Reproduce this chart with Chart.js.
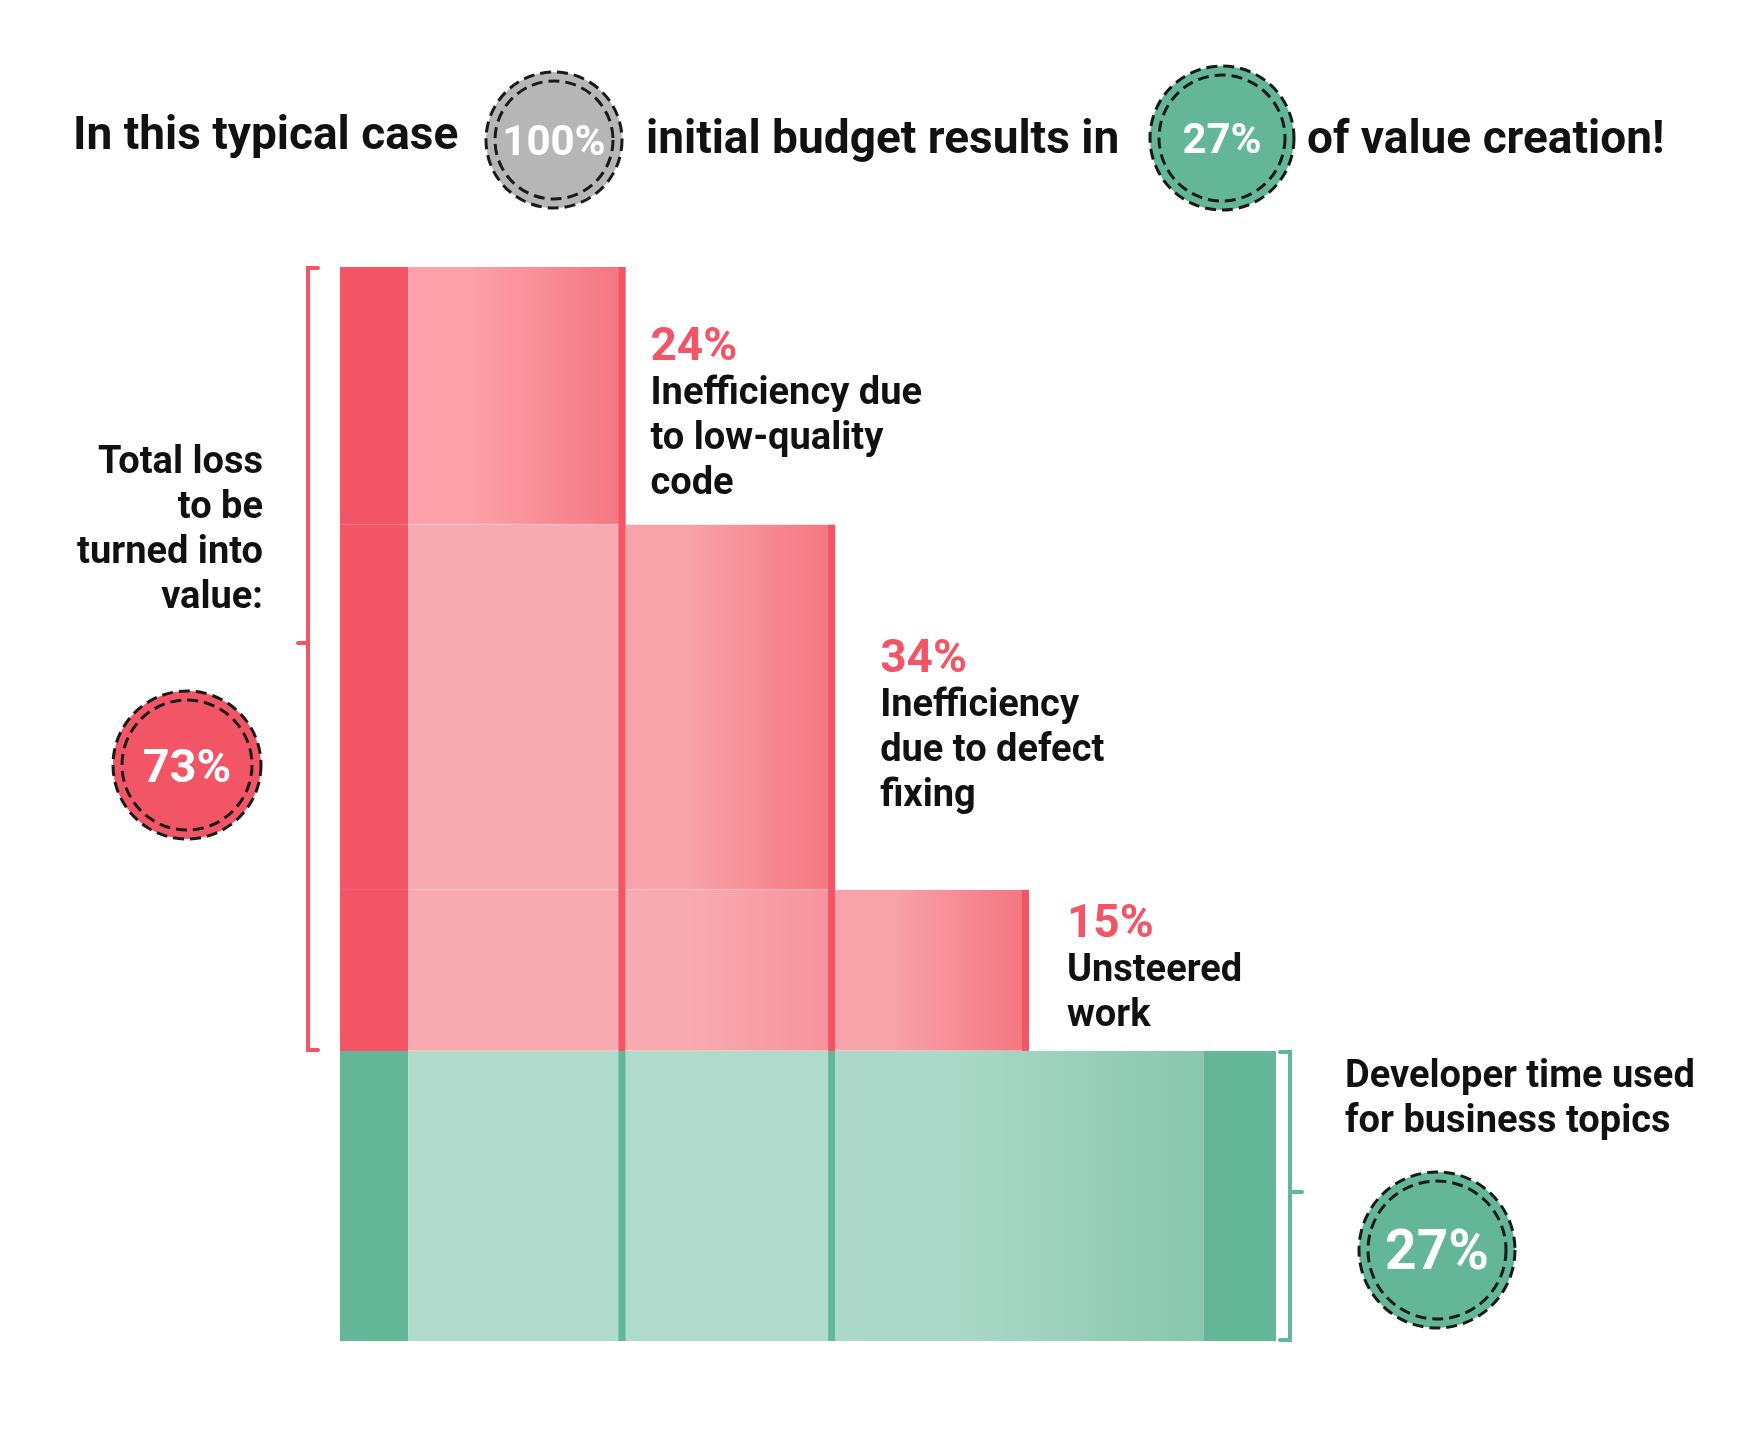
<!DOCTYPE html>
<html>
<head>
<meta charset="utf-8">
<script src="https://cdn.jsdelivr.net/npm/chart.js@4"></script>
<style>
  body { margin: 0; background: #fff; font-family: Roboto, sans-serif; font-weight: 700; }
  #wrap { position: relative; width: 1746px; height: 1430px; }
  canvas { position: absolute; left: 0; top: 0; }
  .t { position: absolute; color: #111; white-space: nowrap; }
  .pct { color: #f25565; font-size: 46px; line-height: 50px; }
  .lbl { font-size: 38px; line-height: 45px; }
  .head { font-size: 46px; }
  .circ { position: absolute; color: #fff; display: flex; align-items: center; justify-content: center; }
  .circ svg { position: absolute; left: 0; top: 0; }
  .circ span { position: relative; }
</style>
</head>
<body>
<div id="wrap">
  <canvas id="lossChart" width="1746" height="1430"></canvas>
</div>
<script>
// 数据
const lossValues = [24, 34, 15];
const valueShare = 27;
const lossNames = ['Inefficiency due|to low-quality|code', 'Inefficiency|due to defect|fixing', 'Unsteered|work'];
const stageEdges = [0, 7.3, 30.5, 52.9, 73.6, 92.3, 100]; // 阶段边界（横向）
const totalLoss = lossValues.reduce((a, b) => a + b, 0);

const RED = '#f25565', GREEN = '#63b698';

function grad(ctx, x0, x1, c0, c1) {
  const g = ctx.createLinearGradient(x0, 0, x1, 0);
  g.addColorStop(0, c0); g.addColorStop(0.3, c0); g.addColorStop(1, c1);
  return g;
}

const blocksPlugin = {
  id: 'blocks',
  beforeDatasetsDraw(chart) {
    const ctx = chart.ctx, x = chart.scales.x, y = chart.scales.y;
    const px = v => x.getPixelForValue(v), py = v => y.getPixelForValue(v);
    const rect = (x0, x1, y0, y1, fill) => {
      ctx.fillStyle = fill;
      ctx.fillRect(px(x0), py(y1), px(x1) - px(x0), py(y0) - py(y1));
    };
    // 损失部分
    let top = 100;
    const lines = [];
    lossValues.forEach((v, i) => {
      const bottom = top - v;
      rect(stageEdges[0], stageEdges[1], bottom, top, RED);
      for (let j = 1; j <= i + 1; j++) {
        const a = px(stageEdges[j]), b = px(stageEdges[j + 1]);
        let fill;
        if (j === i + 1) fill = grad(ctx, a, b, i === 0 ? '#fca0aa' : '#f8a2aa', '#f47580');
        else if (j === 1) fill = '#f8aab1';
        else fill = grad(ctx, a, b, '#f8aab1', '#f7929c');
        rect(stageEdges[j], stageEdges[j + 1], bottom, top, fill);
      }
      ctx.fillStyle = 'rgba(255,255,255,0.35)';
      ctx.fillRect(px(stageEdges[1]), py(bottom) - 1, px(stageEdges[i + 2]) - px(stageEdges[1]), 2);
      lines.push([stageEdges[i + 2], top]);
      top = bottom;
    });
    // 右侧竖线
    ctx.fillStyle = RED;
    lines.forEach(([xv, tv]) => ctx.fillRect(px(xv) - 7, py(tv), 7, py(valueShare) - py(tv)));
    // 价值部分
    rect(stageEdges[0], stageEdges[1], 0, valueShare, GREEN);
    rect(stageEdges[1], stageEdges[3], 0, valueShare, '#b0dbcc');
    rect(stageEdges[3], stageEdges[5], 0, valueShare, grad(ctx, px(stageEdges[3]), px(stageEdges[5]), '#acd9c9', '#88c6ae'));
    rect(stageEdges[5], stageEdges[6], 0, valueShare, GREEN);
    ctx.fillStyle = GREEN;
    [2, 3].forEach(k => ctx.fillRect(px(stageEdges[k]) - 7, py(valueShare), 7, py(0) - py(valueShare)));

    // 括号
    ctx.lineWidth = 4; ctx.lineCap = 'round';
    ctx.strokeStyle = RED;
    const bx = px(0) - 32;
    ctx.beginPath();
    ctx.moveTo(bx + 10, py(100) + 1); ctx.lineTo(bx, py(100) + 1);
    ctx.lineTo(bx, py(valueShare) - 1); ctx.lineTo(bx + 10, py(valueShare) - 1);
    const rm = py(100 - totalLoss / 2) - 16;
    ctx.moveTo(bx, rm); ctx.lineTo(bx - 10, rm);
    ctx.stroke();
    ctx.strokeStyle = GREEN;
    const gx = px(100) + 14;
    ctx.beginPath();
    ctx.moveTo(gx - 10, py(valueShare) + 1); ctx.lineTo(gx, py(valueShare) + 1);
    ctx.lineTo(gx, py(0) - 1); ctx.lineTo(gx - 10, py(0) - 1);
    const gm = py(valueShare / 2) - 4;
    ctx.moveTo(gx, gm); ctx.lineTo(gx + 12, gm);
    ctx.stroke();
  }
};

const chart = new Chart(document.getElementById('lossChart'), {
  type: 'scatter',
  data: { datasets: [{ data: [] }] },
  options: {
    responsive: false,
    animation: false,
    layout: { padding: { left: 340, right: 470, top: 267, bottom: 89 } },
    scales: {
      x: { type: 'linear', min: 0, max: 100, display: false },
      y: { type: 'linear', min: 0, max: 100, display: false }
    },
    plugins: { legend: { display: false }, tooltip: { enabled: false } }
  },
  plugins: [blocksPlugin]
});

// 文字与圆圈
const wrap = document.getElementById('wrap');
function text(html, left, top, cls, align) {
  const d = document.createElement('div');
  d.className = 't ' + cls;
  d.innerHTML = html;
  d.style.top = top + 'px';
  if (align === 'right') { d.style.right = (1746 - left) + 'px'; d.style.textAlign = 'right'; }
  else d.style.left = left + 'px';
  wrap.appendChild(d);
}
function circle(label, cx, cy, r, bg, size) {
  const d = document.createElement('div');
  d.className = 'circ';
  const s = 2 * r + 8;
  Object.assign(d.style, { left: (cx - r - 4) + 'px', top: (cy - r - 4) + 'px', width: s + 'px', height: s + 'px', fontSize: size + 'px' });
  const c = s / 2;
  d.innerHTML = `<svg width="${s}" height="${s}">
    <circle cx="${c}" cy="${c}" r="${r}" fill="${bg}" stroke="#1a1a1a" stroke-width="3" stroke-dasharray="11 6"/>
    <circle cx="${c}" cy="${c}" r="${r - 9}" fill="none" stroke="#1a1a1a" stroke-width="3" stroke-dasharray="11 6"/>
  </svg><span>${label}</span>`;
  wrap.appendChild(d);
}
const xs = chart.scales.x, ys = chart.scales.y;
text('In this typical case', 73, 106, 'head', 'left');
text('initial budget results in', 646, 110, 'head', 'left');
text('of value creation!', 1307, 110, 'head', 'left');
circle('100%', 554, 140, 68, '#b6b6b6', 42);
circle(valueShare + '%', 1222, 138, 72, GREEN, 42);

const labelDx = [25, 45, 38], labelDy = [52, 106, 6];
let topV = 100;
lossValues.forEach((v, i) => {
  const lx = xs.getPixelForValue(stageEdges[i + 2]) + labelDx[i];
  const ty = ys.getPixelForValue(topV) + labelDy[i];
  text(v + '%', lx, ty, 'pct', 'left');
  text(lossNames[i].split('|').join('<br>'), lx, ty + 50, 'lbl', 'left');
  topV -= v;
});
text('Total loss<br>to be<br>turned into<br>value:', 263, 438, 'lbl', 'right');
circle(totalLoss + '%', 187, 765, 74, RED, 47);
text('Developer time used<br>for business topics', 1345, 1052, 'lbl', 'left');
circle(valueShare + '%', 1437, 1250, 78, GREEN, 55);
</script>
</body>
</html>
